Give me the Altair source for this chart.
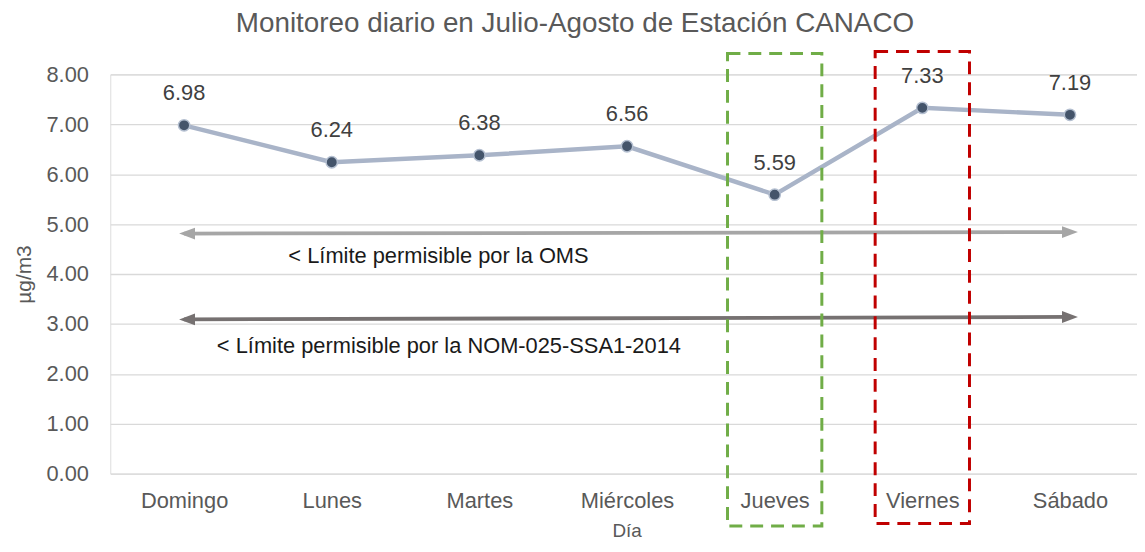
import altair as alt
import pandas as pd

days = ["Domingo", "Lunes", "Martes", "Miércoles", "Jueves", "Viernes", "Sábado"]
values = [6.98, 6.24, 6.38, 6.56, 5.59, 7.33, 7.19]

limit_days = ["Domingo", "Sábado"]
oms_values = [4.81, 4.84]
nom_values = [3.09, 3.14]
limit_kinds = ["OMS", "NOM"]
limit_colors = ["#a6a6a6", "#767171"]

oms_text = "< Límite permisible por la OMS"
nom_text = "< Límite permisible por la NOM-025-SSA1-2014"
oms_text_value = 4.36
nom_text_value = 2.55

box_days = ["Jueves", "Viernes"]
box_colors = ["#70ad47", "#c00000"]
box_top = [8.42, 8.46]
box_bottom = [-1.05, -1.0]

FONT = "Liberation Sans"

pos = {d: i for i, d in enumerate(days)}
df = pd.DataFrame({"day": days, "value": values, "i": [pos[d] for d in days]})
lim = pd.DataFrame({
    "day": limit_days * 2,
    "value": oms_values + nom_values,
    "kind": [limit_kinds[0]] * 2 + [limit_kinds[1]] * 2,
})
lim["i"] = [pos[d] for d in lim["day"]]
boxes = pd.DataFrame({"day": box_days, "color": box_colors, "top": box_top, "bottom": box_bottom})
boxes["i"] = [pos[d] for d in boxes["day"]]
notes_oms = pd.DataFrame({"i": [0], "value": [oms_text_value], "text": [oms_text]})
notes_nom = pd.DataFrame({"i": [0], "value": [nom_text_value], "text": [nom_text]})

label_expr = "[" + ",".join("'" + d + "'" for d in days) + "][datum.value]"
xscale = alt.Scale(domain=[-0.5, 6.454], nice=False, zero=False, padding=0)
yscale = alt.Scale(domain=[0, 8], nice=False, zero=True, padding=0)

x_enc = alt.X("i:Q", scale=xscale,
              axis=alt.Axis(title="Día", values=list(range(len(days))), labelExpr=label_expr,
                            labelAngle=0, labelFontSize=22, labelColor="#595959",
                            labelFont=FONT, labelPadding=17, ticks=False, domain=False,
                            grid=False, labelFlush=False, labelOverlap=False,
                            titleFont=FONT, titleFontSize=19, titleColor="#595959",
                            titleFontWeight="normal", titlePadding=10, titleX=520))
y_enc = alt.Y("value:Q", scale=yscale,
              axis=alt.Axis(title="µg/m3", values=[0, 1, 2, 3, 4, 5, 6, 7, 8], format=".2f",
                            labelFontSize=22, labelColor="#595959", labelFont=FONT,
                            labelPadding=22, ticks=False, domain=False,
                            gridColor="#d9d9d9", gridWidth=1.3,
                            titleFont=FONT, titleFontSize=21, titleColor="#595959",
                            titleFontWeight="normal", titlePadding=12))

base = alt.Chart(df)

line = base.mark_line(color="#a9b4c8", strokeWidth=4.5).encode(x=x_enc, y=y_enc)
pts = base.mark_circle(size=130, color="#44546a", opacity=1, stroke="#b4bfd0",
                       strokeWidth=1.5).encode(x="i:Q", y="value:Q")
labels = base.mark_text(dy=-32, fontSize=22, color="#404040", font=FONT).encode(
    x="i:Q", y="value:Q", text=alt.Text("value:Q", format=".2f"))

color_enc = alt.Color("kind:N", scale=alt.Scale(domain=limit_kinds, range=limit_colors), legend=None)
lim_base = alt.Chart(lim)
lim_lines = lim_base.mark_line(strokeWidth=3.8).encode(x="i:Q", y="value:Q", color=color_enc,
                                                        detail="kind:N")
left_heads = lim_base.transform_filter(alt.datum.day == limit_days[0]).mark_point(
    shape="M-1,0L1,-0.75L1,0.75Z", size=256, filled=True, opacity=1, xOffset=3
).encode(x="i:Q", y="value:Q", color=color_enc)
right_heads = lim_base.transform_filter(alt.datum.day == limit_days[1]).mark_point(
    shape="M1,0L-1,-0.75L-1,0.75Z", size=256, filled=True, opacity=1, xOffset=0
).encode(x="i:Q", y="value:Q", color=color_enc)

note1 = alt.Chart(notes_oms).mark_text(align="left", dx=105, fontSize=22, color="#1a1a1a",
                                       font=FONT).encode(x="i:Q", y="value:Q", text="text:N")
note2 = alt.Chart(notes_nom).mark_text(align="left", dx=33, fontSize=22, color="#1a1a1a",
                                       font=FONT).encode(x="i:Q", y="value:Q", text="text:N")

box_layer = alt.Chart(boxes).mark_bar(width=95, fillOpacity=0, strokeWidth=3,
                                      strokeDash=[13, 8], clip=False, orient="vertical").encode(
    x="i:Q", y="top:Q", y2="bottom:Q",
    stroke=alt.Stroke("color:N", scale=None))

chart = alt.layer(line, lim_lines, left_heads, right_heads, pts, labels, note1, note2,
                  box_layer).properties(
    width=1034, height=402,
    title=alt.TitleParams("Monitoreo diario en Julio-Agosto de Estación CANACO", fontSize=28,
                          font=FONT, color="#595959", fontWeight="normal", anchor="middle",
                          dx=-49, offset=12),
    autosize=alt.AutoSizeParams(type="none"),
    padding={"left": 103, "top": 65, "right": 0, "bottom": 68},
).configure_view(stroke=None).configure(background="white")

chart.save("out.html", embed_options={"renderer": "svg", "actions": False})
